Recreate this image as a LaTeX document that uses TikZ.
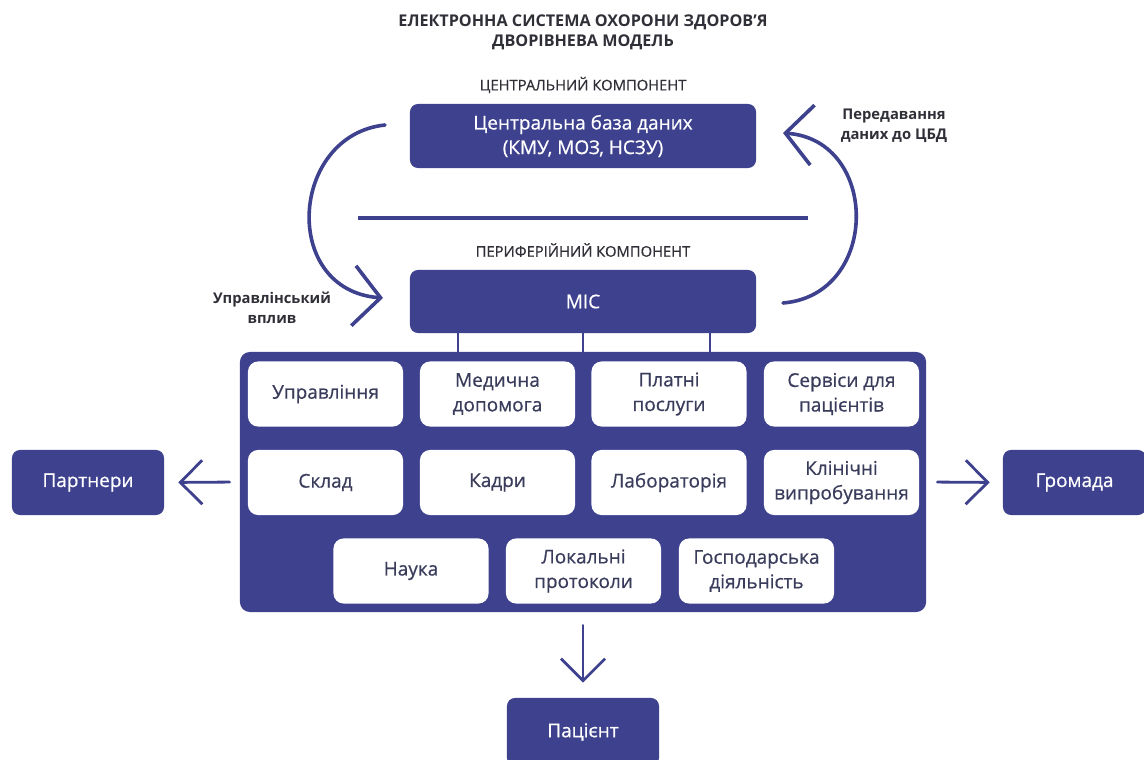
\documentclass[tikz,border=0pt]{standalone}
\usepackage{fontspec}
\setmainfont{Open Sans}
\newfontfamily\medfont{Open Sans}[FakeBold=0.6]
\usetikzlibrary{arrows.meta}
\definecolor{misblue}{HTML}{3D418E}
\definecolor{celltext}{HTML}{3A3C5C}
\definecolor{captext}{HTML}{2F2F38}

\begin{document}
\begin{tikzpicture}[x=0.025cm, y=-0.025cm,
  bluebox/.style={fill=misblue, text=white, rounded corners=0.2cm, minimum width=8.65cm, minimum height=1.6cm, align=center, font=\medfont\fontsize{13.5}{17.5}\selectfont},
  sidebox/.style={bluebox, minimum width=3.8cm, minimum height=1.625cm},
  cell/.style={fill=white, text=celltext, rounded corners=0.25cm, minimum width=3.875cm, minimum height=1.625cm, align=center, font=\medfont\fontsize{13.5}{17.5}\selectfont},
  caption/.style={text=captext, align=center, font=\medfont\fontsize{10.5}{14}\selectfont},
  boldcaption/.style={caption, font=\bfseries\fontsize{10.5}{14.2}\selectfont},
  turn/.style={misblue, line width=0.09cm, line cap=round, -{Straight Barb[length=0.675cm, width=1.5cm]}},
  flow/.style={misblue, line width=0.07cm, line cap=round, -{Straight Barb[length=0.55cm, width=1.1cm]}},
  link/.style={misblue, line width=0.065cm}]
\useasboundingbox (0,0) rectangle (1144,760);
\clip (0,0) rectangle (1144,760);

% titles
\node[caption, font=\bfseries\fontsize{11.5}{14.2}\selectfont] (title) at (583,32) {ЕЛЕКТРОННА СИСТЕМА ОХОРОНИ ЗДОРОВ’Я\\ДВОРІВНЕВА МОДЕЛЬ};
\node[caption] (central) at (583,85) {ЦЕНТРАЛЬНИЙ КОМПОНЕНТ};
\node[caption] (periph) at (583,250) {ПЕРИФЕРІЙНИЙ КОМПОНЕНТ};

% central and peripheral blocks
\node[bluebox] (cbd) at (583,136) {Центральна база даних\\(КМУ, МОЗ, НСЗУ)};
\draw[misblue, line width=0.08cm] (358,218) -- (808,218);
\node[bluebox, minimum height=1.575cm] (mis) at (583,301.5) {МІС};

% side labels
\node[boldcaption] (manage) at (272,308) {Управлінський\\вплив};
\node[boldcaption] (transfer) at (894,126) {Передавання\\даних до ЦБД};

% curved arrows
\coordinate (fromcbd) at (385,125);
\coordinate (tomis) at (383,298);
\draw[turn] (fromcbd) .. controls (290,135) and (280,290) .. (tomis);
\coordinate (frommis) at (783,303);
\coordinate (tocbd) at (783,133);
\draw[turn] (frommis) .. controls (880,295) and (880,140) .. (tocbd);

% panel of subsystems
\node[fill=misblue, rounded corners=0.25cm, minimum width=17.15cm, minimum height=6.5cm] (panel) at (583,482) {};
\draw[link] ([xshift=-3.125cm]mis.south) -- ([xshift=-3.125cm]panel.north);
\draw[link] (mis.south) -- (panel.north);
\draw[link] ([xshift=3.175cm]mis.south) -- ([xshift=3.175cm]panel.north);

\node[cell] (upr) at (325.5,394) {Управління};
\node[cell] (med) at (497.5,394) {Медична\\допомога};
\node[cell] (plat) at (669,394) {Платні\\послуги};
\node[cell] (serv) at (841.5,394) {Сервіси для\\пацієнтів};
\node[cell] (sklad) at (325.5,482.5) {Склад};
\node[cell] (kadry) at (497.5,482.5) {Кадри};
\node[cell] (lab) at (669,482.5) {Лабораторія};
\node[cell] (klin) at (841.5,482.5) {Клінічні\\випробування};
\node[cell] (nauka) at (411,571) {Наука};
\node[cell] (prot) at (583.5,571) {Локальні\\протоколи};
\node[cell] (gosp) at (756.5,571) {Господарська\\діяльність};

% outer parties
\node[sidebox] (partners) at (88,482.5) {Партнери};
\node[sidebox, minimum width=3.575cm] (hromada) at (1074.5,482.5) {Громада};
\node[sidebox, minimum height=1.7cm] (patient) at (583,732) {Пацієнт};
\draw[flow, shorten <=0.25cm, shorten >=0.35cm] (panel.west) -- (partners.east);
\draw[flow, shorten <=0.275cm, shorten >=0.325cm] (panel.east) -- (hromada.west);
\draw[flow, shorten <=0.325cm, shorten >=0.375cm] (panel.south) -- (patient.north);
\end{tikzpicture}
\end{document}
